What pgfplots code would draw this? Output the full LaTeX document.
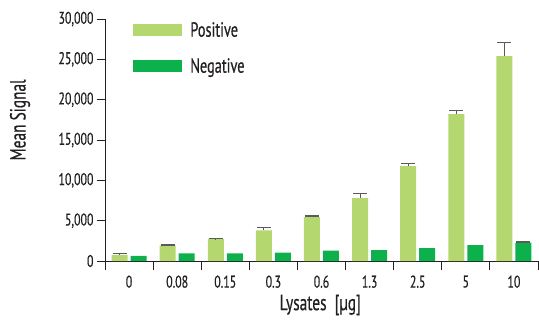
\documentclass[border=0pt]{standalone}
\usepackage{fontspec}
\setmainfont{PT Sans}[FakeStretch=0.7, FakeBold=0.5]
\usepackage{pgfplots}
\usepackage{pgfplotstable}
\pgfplotsset{compat=1.18}
\definecolor{pos}{HTML}{B5D76F}
\definecolor{neg}{HTML}{0DB14B}
\definecolor{txt}{HTML}{231F20}
\definecolor{errc}{HTML}{5A5A5A}
\pgfplotstableread{
x y e
0 750 150
1 1930 70
2 2730 50
3 3800 330
4 5450 120
5 7800 600
6 11770 330
7 18220 450
8 25400 1650
}\postab
\pgfplotstableread{
x y
0 650
1 940
2 940
3 1030
4 1280
5 1360
6 1610
7 1980
8 2270
}\negtab
\begin{document}
\begin{tikzpicture}
\useasboundingbox (-105bp,-61bp) rectangle (434bp,261bp);
\begin{axis}[
  at={(0,0)}, anchor=south west,
  scale only axis, width=433bp, height=242bp,
  ybar, bar width=16bp,
  xmin=-0.5, xmax=8.5, ymin=0, ymax=30000,
  axis x line=bottom, axis y line=left,
  axis line style={-, draw=txt, line width=0.8pt},
  xtick={0,...,8},
  xticklabels={0,0.08,0.15,0.3,0.6,1.3,2.5,5,10},
  major x tick style={draw=none},
  minor xtick={-0.5,0.5,...,8.5},
  minor x tick style={draw=txt, line width=0.8pt},
  major y tick style={draw=txt, line width=0.8pt},
  tick align=outside,
  major tick length=8bp, minor tick length=9bp,
  ytick={0,5000,10000,15000,20000,25000,30000},
  scaled y ticks=false,
  /pgf/number format/.cd, 1000 sep={,}, assume math mode=true,
  /pgfplots/.cd,
  tick label style={font=\fontsize{17}{19}\selectfont, text=txt},
  xticklabel style={yshift=-3bp},
  label style={font=\fontsize{22}{24}\selectfont, text=txt},
  ylabel={Mean Signal},
  xlabel={Lysates\ \ [µg]},
  ylabel style={at={([xshift=-85bp]rel axis cs:0,0.583)}, anchor=center},
  xlabel style={at={([yshift=-44bp]rel axis cs:0.497,0)}, anchor=center},
  legend style={draw=none, fill=none, at={([yshift=-1bp]rel axis cs:0.065,1)}, anchor=north west,
    font=\fontsize{20.5}{22}\selectfont, text=txt, row sep=16bp, inner sep=0pt,
    nodes={inner xsep=8bp, inner ysep=2bp}},
  legend cell align=left,
  legend image code/.code={\fill[#1] (0bp,-6bp) rectangle (49bp,6bp);},
]
\addplot[fill=pos, draw=none, bar shift=-9.5bp,
  error bars/.cd, y dir=plus, y explicit, error mark=|,
  error bar style={draw=errc, line width=1pt},
  error mark options={draw=errc, line width=1.3pt, mark size=7bp}]
  table[x=x, y=y, y error=e] {\postab};
\addlegendentry{Positive}
\addplot[fill=neg, draw=none, bar shift=9.5bp]
  table[x=x, y=y] {\negtab};
\addlegendentry{Negative}
\addplot[fill=none, draw=none, bar shift=9.5bp, forget plot,
  error bars/.cd, y dir=plus, y explicit, error mark=|,
  error bar style={draw=errc, line width=1pt},
  error mark options={draw=errc, line width=1.3pt, mark size=7bp}]
  coordinates {(8,2270) +- (0,80)};
\end{axis}
\end{tikzpicture}
\end{document}
